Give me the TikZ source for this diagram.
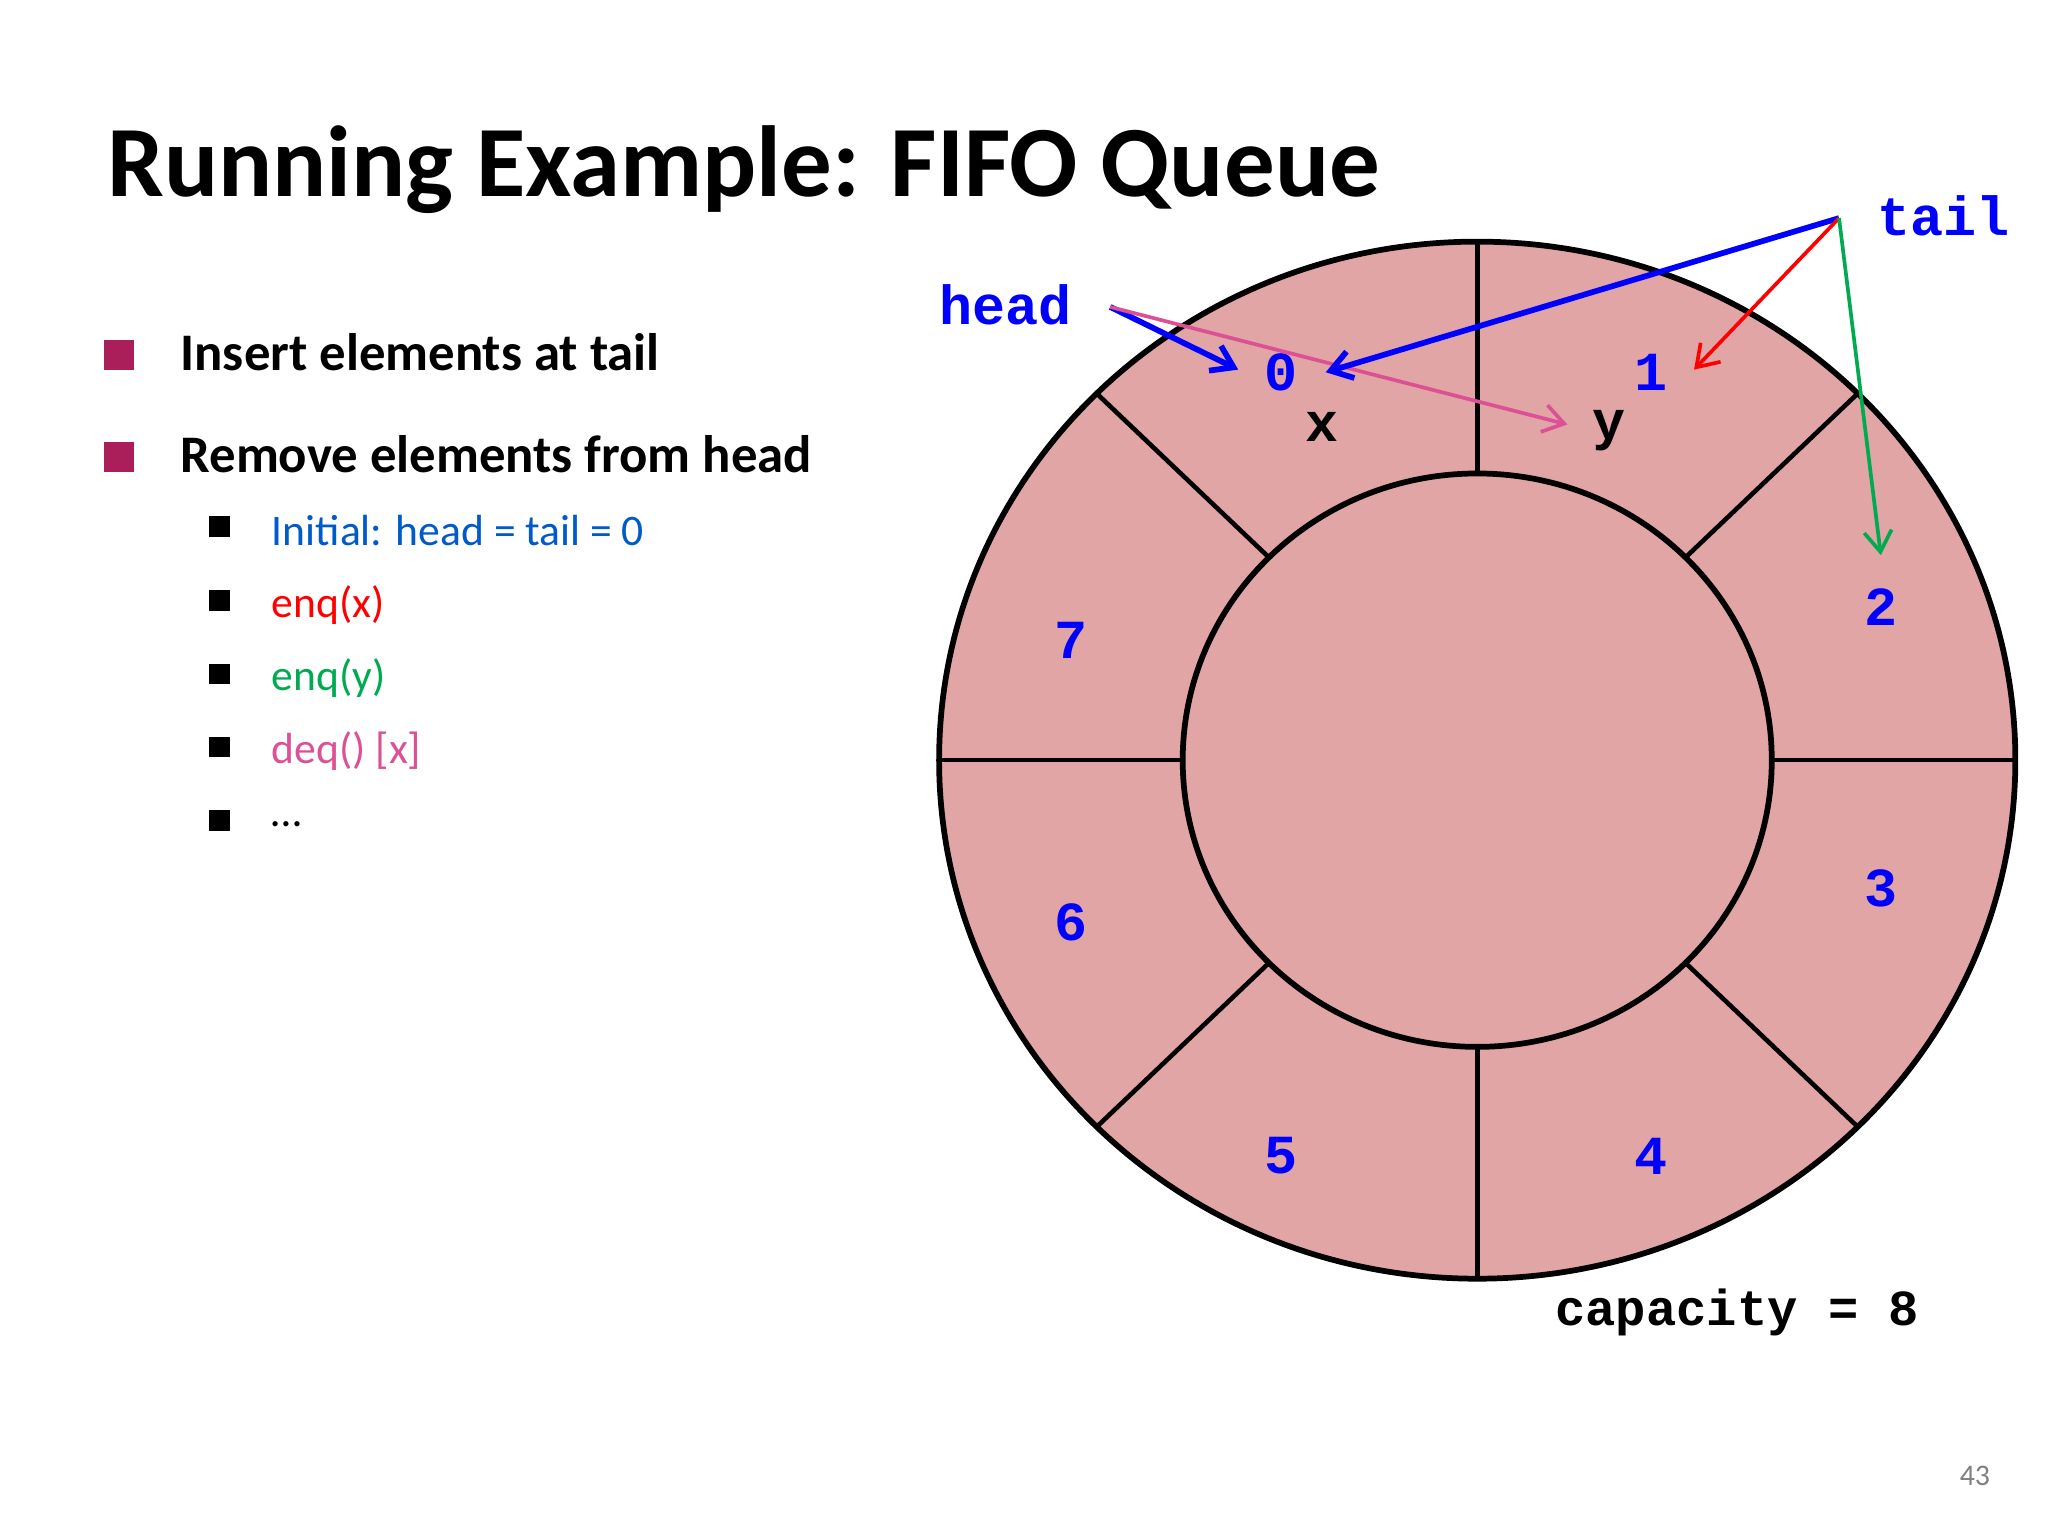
\documentclass[tikz,border=0pt]{standalone}
\usepackage{fontspec}
\setmainfont{Carlito}
\newfontfamily\mono{Liberation Mono}
\usetikzlibrary{arrows.meta}
\definecolor{ringfill}{RGB}{226,165,165}
\definecolor{bullmag}{RGB}{170,30,90}
\definecolor{initblue}{RGB}{0,90,200}
\definecolor{enqgreen}{RGB}{0,170,80}
\definecolor{deqpink}{RGB}{220,80,150}
\begin{document}
\begin{tikzpicture}[x=0.02cm,y=-0.02cm,
  mn/.style={font=\mono\bfseries\fontsize{24}{24}\selectfont},
  num/.style={mn,text=blue},
  sq/.style={fill=black,minimum size=9pt,inner sep=0pt},
  bsq/.style={fill=bullmag,minimum size=13pt,inner sep=0pt},
  arr/.style={-{Straight Barb[length=9pt,width=12pt]},line width=1.6pt}]
\useasboundingbox (0,0) rectangle (1568,1176);
\node[anchor=west,font=\bfseries\fontsize{44}{44}\selectfont] (title) at (76,130) {Running Example: FIFO Queue};
\node[bsq] (b1) at (91,272) {};
\node[anchor=west,font=\bfseries\fontsize{23}{23}\selectfont] (t1) at (132,270) {Insert elements at tail};
\node[bsq] (b2) at (91,350) {};
\node[anchor=west,font=\bfseries\fontsize{23}{23}\selectfont] (t2) at (132,348) {Remove elements from head};
\tikzset{sub/.style={anchor=west,font=\fontsize{19}{19}\selectfont}}
\node[sq] (s1) at (168,403) {}; \node[sub,text=initblue] (u1) at (202,406) {Initial: head = tail = 0};
\node[sq] (s2) at (168,460) {}; \node[sub,text=red] (u2) at (202,463) {enq(x)};
\node[sq] (s3) at (168,516) {}; \node[sub,text=enqgreen] (u3) at (202,519) {enq(y)};
\node[sq] (s4) at (168,572) {}; \node[sub,text=deqpink] (u4) at (202,575) {deq() [x]};
\node[sq] (s5) at (168,628) {}; \node[sub] (u5) at (202,631) {\dots};
% ring
\fill[ringfill] (1131,582) ellipse [x radius=412,y radius=397];
\foreach \a in {0,45,...,315}
  \draw[line width=2pt] ({1131+225.5*cos(\a)},{582-219.5*sin(\a)}) -- ({1131+412*cos(\a)},{582-397*sin(\a)});
\draw[line width=2.5pt] (1131,582) ellipse [x radius=412,y radius=397];
\draw[line width=2.5pt] (1131,582) ellipse [x radius=225.5,y radius=219.5];
\node[num] (n0) at (981,285) {0};
\node[num] (n1) at (1264,285) {1};
\node[num] (n2) at (1440,465) {2};
\node[num] (n3) at (1440,680) {3};
\node[num] (n4) at (1264,885) {4};
\node[num] (n5) at (981,885) {5};
\node[num] (n6) at (820,706) {6};
\node[num] (n7) at (820,490) {7};
\node[mn] (x) at (1012,327) {x};
\node[mn] (y) at (1232,330) {y};
\node[num] (head) at (770,233) {head};
\node[num] (tail) at (1488,165) {tail};
\node[mn,font=\mono\bfseries\fontsize{22}{22}\selectfont] (cap) at (1330,1005) {capacity = 8};
\node[text=gray,font=\fontsize{13}{13}\selectfont] (pg) at (1512,1130) {43};
\coordinate (hs) at (850,235);
\coordinate (ts) at (1408,167);
\draw[arr,blue,line width=2.5pt] (hs) -- (948,283);
\draw[arr,deqpink] (hs) -- (1200,325);
\draw[arr,blue,line width=2.5pt] (ts) -- (1015,285);
\draw[arr,red] (ts) -- (1297,283);
\draw[arr,enqgreen] (ts) -- (1440,425);
\end{tikzpicture}
\end{document}
